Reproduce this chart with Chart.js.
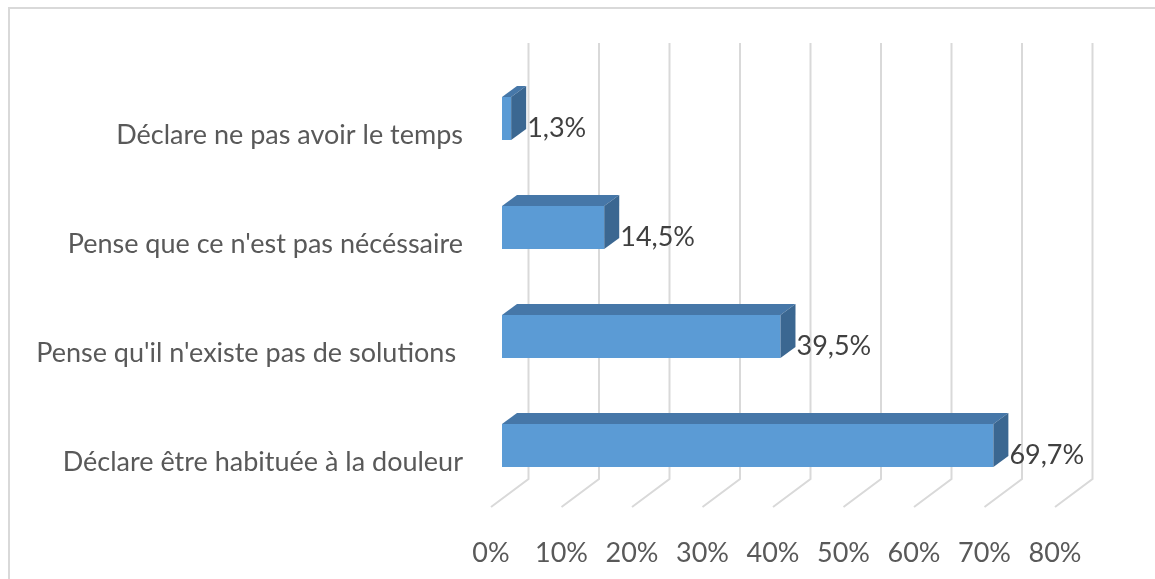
<!DOCTYPE html>
<html><head><meta charset="utf-8">
<script src="https://cdn.jsdelivr.net/npm/chart.js@4/dist/chart.umd.min.js"></script>
<style>
html,body{margin:0;padding:0;background:#fff;}
#wrap{position:relative;width:1155px;height:579px;overflow:hidden;background:#fff;}
#frame{position:absolute;left:8px;top:7px;width:1300px;height:800px;border:2px solid #d9d9d9;box-sizing:border-box;}
canvas{position:absolute;left:0;top:0;}
</style></head><body>
<div id="wrap"><div id="frame"></div><canvas id="c" width="1155" height="579"></canvas></div>
<script>
const categories = [
  "Déclare ne pas avoir le temps",
  "Pense que ce n'est pas nécéssaire",
  "Pense qu'il n'existe pas de solutions ",
  "Déclare être habituée à la douleur"
];
const values = [1.3, 14.5, 39.5, 69.7];
const tickValues = [0, 10, 20, 30, 40, 50, 60, 70, 80];
const tickLabels = ["0%", "10%", "20%", "30%", "40%", "50%", "60%", "70%", "80%"];

// 3D styling constants
const BAR_SHIFT_X = 11, BAR_SHIFT_Y = -16.5;
const WALL_DX = 37.5, WALL_DY = -28;
const BAR_DX = 15, BAR_DY = -11;
const FONT = "Lato";
const FONT_SIZE = 27;

const plugin3d = {
  id: 'threeD',
  beforeDatasetsDraw(chart) {
    const { ctx, scales: { x }, chartArea } = chart;
    const floorY = chartArea.bottom - 9.5;
    const topY = 43;
    ctx.save();
    ctx.strokeStyle = '#d9d9d9';
    ctx.lineWidth = 2;
    tickValues.forEach(v => {
      const fx = x.getPixelForValue(v);
      ctx.beginPath();
      ctx.moveTo(fx + WALL_DX, topY);
      ctx.lineTo(fx + WALL_DX, floorY + WALL_DY);
      ctx.lineTo(fx, floorY);
      ctx.stroke();
    });
    ctx.restore();
    ctx.save();
    ctx.translate(BAR_SHIFT_X, BAR_SHIFT_Y);
  },
  afterDatasetsDraw(chart) {
    const { ctx } = chart;
    ctx.restore();
    const meta = chart.getDatasetMeta(0);
    ctx.save();
    meta.data.forEach((bar, i) => {
      const p = bar.getProps(['x', 'y', 'base', 'height'], true);
      const x0 = p.base + BAR_SHIFT_X, x1 = p.x + BAR_SHIFT_X;
      const yt = p.y - p.height / 2 + BAR_SHIFT_Y, yb = p.y + p.height / 2 + BAR_SHIFT_Y;
      ctx.fillStyle = '#4677A8';
      ctx.beginPath();
      ctx.moveTo(x0, yt); ctx.lineTo(x1, yt);
      ctx.lineTo(x1 + BAR_DX, yt + BAR_DY); ctx.lineTo(x0 + BAR_DX, yt + BAR_DY);
      ctx.closePath(); ctx.fill();
      ctx.fillStyle = '#3B6791';
      ctx.beginPath();
      ctx.moveTo(x1, yt); ctx.lineTo(x1 + BAR_DX, yt + BAR_DY);
      ctx.lineTo(x1 + BAR_DX, yb + BAR_DY); ctx.lineTo(x1, yb);
      ctx.closePath(); ctx.fill();
      ctx.fillStyle = '#404040';
      ctx.font = FONT_SIZE + 'px ' + FONT;
      ctx.textAlign = 'left';
      ctx.textBaseline = 'middle';
      ctx.fillText(values[i].toFixed(1).replace('.', ',') + '%', x1 + 16, (yt + yb) / 2 + 10);
    });
    ctx.restore();
  }
};

Chart.defaults.font.family = FONT;
new Chart(document.getElementById('c'), {
  type: 'bar',
  data: {
    labels: categories,
    datasets: [{
      data: values,
      backgroundColor: '#5B9BD5',
      borderWidth: 0,
      categoryPercentage: 1,
      barPercentage: 0.395,
      clip: false
    }]
  },
  options: {
    indexAxis: 'y',
    responsive: false,
    animation: false,
    layout: { padding: { top: 80.5, right: 100, bottom: 0, left: 0 } },
    plugins: { legend: { display: false }, tooltip: { enabled: false } },
    scales: {
      x: {
        min: 0, max: 80,
        grid: { display: false, drawTicks: false },
        border: { display: false },
        ticks: {
          stepSize: 10, maxRotation: 0, autoSkip: false,
          callback: (v, i) => tickLabels[i],
          color: '#595959', font: { size: FONT_SIZE }, padding: 21
        },
        afterFit(s) { s.height = 62.5; }
      },
      y: {
        grid: { display: false, drawTicks: false },
        border: { display: false },
        ticks: { color: '#595959', font: { size: FONT_SIZE }, padding: 28 },
        afterFit(s) { s.width = 491; }
      }
    }
  },
  plugins: [plugin3d]
});
</script>
</body></html>
